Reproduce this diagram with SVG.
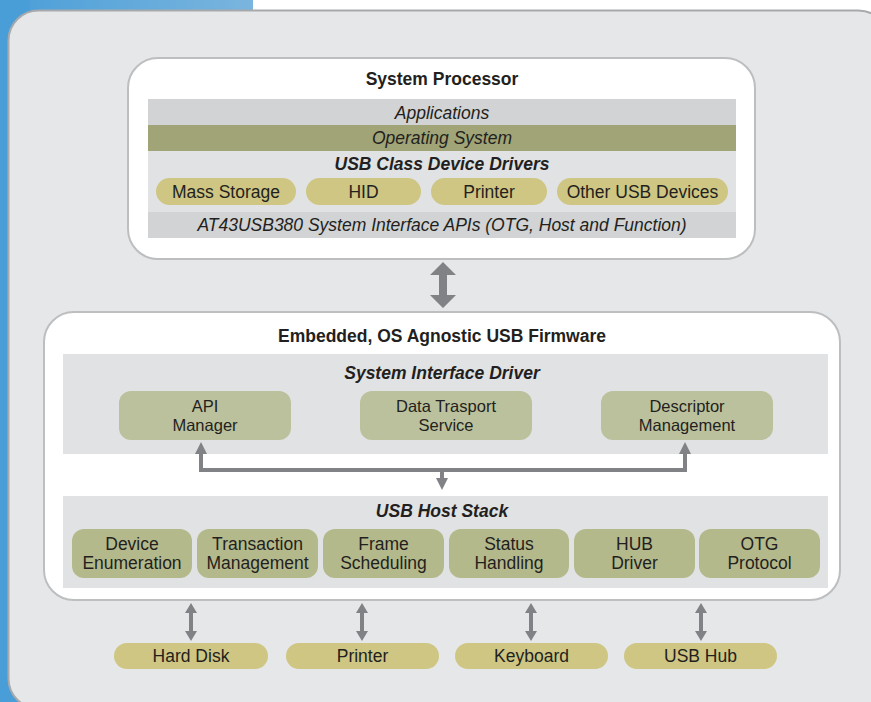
<svg xmlns="http://www.w3.org/2000/svg" xmlns:xlink="http://www.w3.org/1999/xlink" width="871" height="702" viewBox="0 0 871 702">
<defs>
<linearGradient id="blue" x1="0" y1="0" x2="1" y2="0">
<stop offset="0" stop-color="#4a9ed8"/>
<stop offset="1" stop-color="#7ab5de"/>
</linearGradient>
<polygon id="dbl" points="0,0 6,10 2,10 2,28 6,28 0,38 -6,28 -2,28 -2,10 -6,10" fill="#808285"/>
<polygon id="up" points="0,0 6,12 -6,12" fill="#808285"/>
</defs>
<style>
text{font-family:"Liberation Sans",Arial,sans-serif;fill:#231f20;text-anchor:middle;font-size:17.5px}
.t{font-weight:bold}
.bi{font-weight:bold;font-style:italic}
.it{font-style:italic}
.s{font-size:16.5px}
.white{fill:#ffffff;stroke:#bcbec0;stroke-width:2}
.band{fill:#d1d3d4}
.lband{fill:#e1e2e3}
.pill{fill:#cec682}
.sid{fill:#bbc19c}
.host{fill:#b4b98b}
.conn{fill:none;stroke:#808285;stroke-width:4}
</style>
<rect x="0" y="0" width="871" height="702" fill="#ffffff"/>
<rect x="0" y="0" width="253" height="40" fill="url(#blue)"/>
<rect x="0" y="0" width="30" height="702" fill="#4a9ed8"/>
<rect id="panel" x="8.5" y="10.5" width="880" height="698" rx="30" fill="#e6e7e8" stroke="#a7a9ac" stroke-width="2"/>

<g id="system-processor">
<rect class="white" x="128" y="58" width="627" height="201" rx="30"/>
<text class="t" x="442" y="85">System Processor</text>
<rect class="band" x="148" y="99" width="588" height="27"/>
<text class="it" x="442" y="119">Applications</text>
<rect x="148" y="125" width="588" height="26" fill="#a0a476"/>
<text class="it" x="442" y="144">Operating System</text>
<rect class="lband" x="148" y="151" width="588" height="61"/>
<text class="bi" x="442" y="170">USB Class Device Drivers</text>
<rect class="band" x="148" y="212" width="588" height="26"/>
<text class="it" x="442" y="231">AT43USB380 System Interface APIs (OTG, Host and Function)</text>
</g>

<g id="mass-storage"><rect class="pill" x="156" y="178" width="140" height="27" rx="13.5"/><text x="226" y="198">Mass Storage</text></g>
<g id="hid"><rect class="pill" x="306" y="178" width="115" height="27" rx="13.5"/><text x="363.5" y="198">HID</text></g>
<g id="printer-driver"><rect class="pill" x="431" y="178" width="116" height="27" rx="13.5"/><text x="489" y="198">Printer</text></g>
<g id="other-usb"><rect class="pill" x="557" y="178" width="171" height="27" rx="13.5"/><text x="642.5" y="198">Other USB Devices</text></g>

<g id="firmware">
<rect class="white" x="44" y="312" width="796" height="288" rx="30"/>
<text class="t" x="442" y="342">Embedded, OS Agnostic USB Firmware</text>
<rect class="lband" x="63" y="354" width="765" height="100"/>
<text class="bi" x="442" y="379">System Interface Driver</text>
<rect class="lband" x="63" y="496" width="765" height="92"/>
<text class="bi" x="442" y="517">USB Host Stack</text>
</g>

<g id="api-manager"><rect class="sid" x="119" y="391" width="172" height="49" rx="12"/><text class="s" x="205" y="412">API</text><text class="s" x="205" y="431">Manager</text></g>
<g id="data-transport"><rect class="sid" x="360" y="391" width="172" height="49" rx="12"/><text class="s" x="446" y="412">Data Trasport</text><text class="s" x="446" y="431">Service</text></g>
<g id="descriptor"><rect class="sid" x="601" y="391" width="172" height="49" rx="12"/><text class="s" x="687" y="412">Descriptor</text><text class="s" x="687" y="431">Management</text></g>

<g id="device-enum"><rect class="host" x="72" y="529" width="120" height="49" rx="12"/><text x="132" y="550">Device</text><text x="132" y="569">Enumeration</text></g>
<g id="transaction"><rect class="host" x="197" y="529" width="121" height="49" rx="12"/><text x="257.5" y="550">Transaction</text><text x="257.5" y="569">Management</text></g>
<g id="frame"><rect class="host" x="323" y="529" width="121" height="49" rx="12"/><text x="383.5" y="550">Frame</text><text x="383.5" y="569">Scheduling</text></g>
<g id="status"><rect class="host" x="449" y="529" width="120" height="49" rx="12"/><text x="509" y="550">Status</text><text x="509" y="569">Handling</text></g>
<g id="hub-driver"><rect class="host" x="574" y="529" width="121" height="49" rx="12"/><text x="634.5" y="550">HUB</text><text x="634.5" y="569">Driver</text></g>
<g id="otg"><rect class="host" x="699" y="529" width="121" height="49" rx="12"/><text x="759.5" y="550">OTG</text><text x="759.5" y="569">Protocol</text></g>

<g id="hard-disk"><rect class="pill" x="114" y="643" width="154" height="26" rx="13"/><text x="191" y="662">Hard Disk</text></g>
<g id="printer"><rect class="pill" x="286" y="643" width="153" height="26" rx="13"/><text x="362.5" y="662">Printer</text></g>
<g id="keyboard"><rect class="pill" x="455" y="643" width="153" height="26" rx="13"/><text x="531.5" y="662">Keyboard</text></g>
<g id="usb-hub"><rect class="pill" x="624" y="643" width="153" height="26" rx="13"/><text x="700.5" y="662">USB Hub</text></g>

<g id="connectors">
<polygon points="443,262 456,275 447,275 447,295 456,295 443,308 430,295 439,295 439,275 430,275" fill="#808285"/>
<path class="conn" d="M201,452 V470 H685 V452"/>
<use xlink:href="#up" x="201" y="442"/>
<use xlink:href="#up" x="685" y="442"/>
<path class="conn" d="M442,470 V479"/>
<polygon points="436,478 448,478 442,490" fill="#808285"/>
<use xlink:href="#dbl" x="191" y="603"/>
<use xlink:href="#dbl" x="362" y="603"/>
<use xlink:href="#dbl" x="531" y="603"/>
<use xlink:href="#dbl" x="701" y="603"/>
</g>
</svg>
